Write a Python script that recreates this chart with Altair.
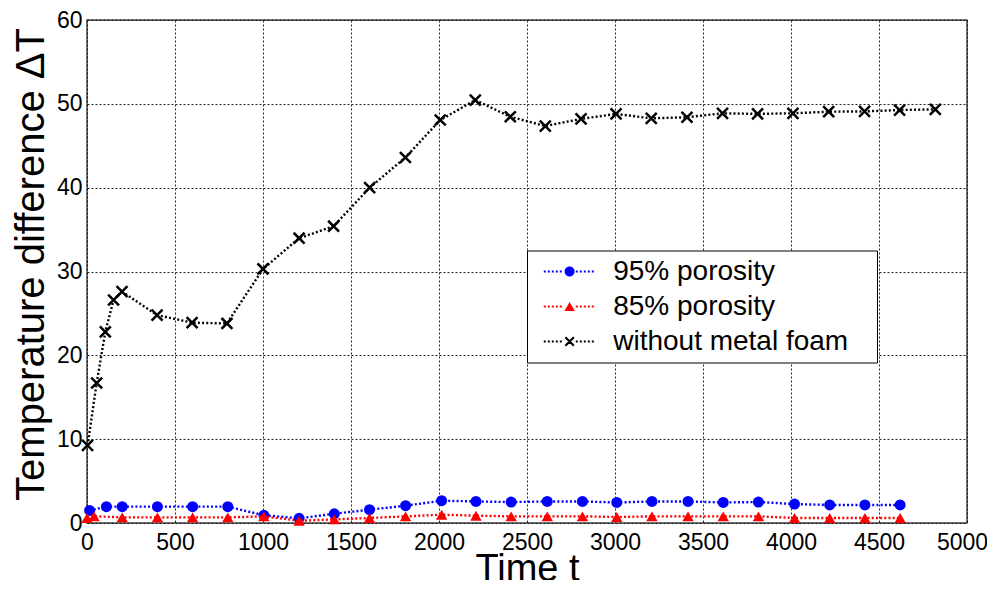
import altair as alt
import pandas as pd

# ---------------- data ----------------
series_names = ["95% porosity", "85% porosity", "without metal foam"]
series_colors = ["#0000ff", "#ff0000", "#000000"]

t_95 = [15, 110, 200, 400, 600, 800, 1005, 1205, 1405, 1605, 1810, 2015, 2210,
        2410, 2615, 2815, 3010, 3210, 3415, 3615, 3815, 4020, 4220, 4420, 4620]
dT_95 = [1.5, 1.95, 1.95, 1.95, 1.95, 1.95, 0.92, 0.56, 1.1, 1.59, 2.06, 2.66, 2.57,
         2.5, 2.57, 2.57, 2.45, 2.57, 2.57, 2.45, 2.5, 2.26, 2.15, 2.15, 2.15]

t_85 = [0, 40, 200, 400, 600, 800, 1005, 1205, 1405, 1605, 1810, 2015, 2210,
        2410, 2615, 2815, 3010, 3210, 3415, 3615, 3815, 4020, 4220, 4420, 4620]
dT_85 = [0.6, 0.8, 0.67, 0.67, 0.67, 0.67, 0.79, 0.27, 0.43, 0.6, 0.79, 0.99, 0.87,
         0.79, 0.79, 0.79, 0.72, 0.79, 0.79, 0.79, 0.79, 0.6, 0.6, 0.6, 0.6]

t_none = [3, 55, 104, 151, 199, 398, 597, 795, 1000, 1205, 1401, 1606, 1809, 2007,
          2206, 2405, 2604, 2807, 3006, 3206, 3409, 3611, 3810, 4011, 4214, 4418,
          4617, 4820]
dT_none = [9.25, 16.7, 22.8, 26.6, 27.6, 24.8, 23.9, 23.8, 30.3, 33.97, 35.4, 40.0,
           43.6, 48.07, 50.45, 48.46, 47.35, 48.2, 48.8, 48.27, 48.4, 48.87, 48.8,
           48.87, 49.06, 49.1, 49.26, 49.34]

x_ticks = [0, 500, 1000, 1500, 2000, 2500, 3000, 3500, 4000, 4500, 5000]
y_ticks = [0, 10, 20, 30, 40, 50, 60]

x_title = "Time t"
y_title = "Temperature difference \u0394T"

rows = []
for name, ts, vs in zip(series_names, [t_95, t_85, t_none], [dT_95, dT_85, dT_none]):
    for t, v in zip(ts, vs):
        rows.append({"series": name, "t": t, "dT": v})
df = pd.DataFrame(rows)

# ---------------- legend symbols: dotted line + marker as one path ----------------
def dotted(half=5.16, dot=0.4, period=0.8, th=0.2, skip=1.0):
    parts = []
    x = -half
    while x + dot <= half + 1e-9:
        if abs(x + dot / 2) > skip:
            parts.append(f"M{x:.2f},{-th}L{x + dot:.2f},{-th}L{x + dot:.2f},{th}L{x:.2f},{th}Z")
        x += period
    return "".join(parts)

circle_path = "M-1,0A1,1,0,1,0,1,0A1,1,0,1,0,-1,0Z"
tri_path = "M0,-0.9L-1.05,0.9L1.05,0.9Z"
a, k = 0.85, 0.156
x_path = (f"M{-a + k},{-a - k}L{a + k},{a - k}L{a - k},{a + k}L{-a - k},{-a + k}Z"
          f"M{-a - k},{a - k}L{a - k},{-a - k}L{a + k},{-a + k}L{-a + k},{a + k}Z")
legend_paths = [dotted() + circle_path, dotted() + tri_path, dotted() + x_path]

FONT = "Liberation Sans"
BLANK = "\u2800"

x_enc = alt.X("t:Q", scale=alt.Scale(domain=[0, 5000], nice=False, zero=False),
              axis=alt.Axis(values=x_ticks, format="d", title=x_title, titleFontSize=38,
                            titleFont=FONT, titleFontWeight="normal", titleColor="black",
                            titleBaseline="alphabetic", titleY=57,
                            labelFont=FONT, labelFontSize=23, labelColor="black",
                            labelPadding=8, labelFlush=False, ticks=False, domain=False,
                            labelOffset=alt.ExprRef("datum.value == 5000 ? -5 : 0"),
                            grid=True, gridColor="black", gridDash=[2, 2],
                            gridOpacity=0.85, gridWidth=1))
y_enc = alt.Y("dT:Q", scale=alt.Scale(domain=[0, 60], nice=False),
              axis=alt.Axis(values=y_ticks, title=y_title, titleFontSize=40,
                            titleFont=FONT, titleFontWeight="normal", titleColor="black",
                            titleBaseline="alphabetic", titleX=-44, titleY=244,
                            labelFont=FONT, labelFontSize=23, labelColor="black",
                            labelPadding=5, labelFlush=False, ticks=False, domain=False,
                            grid=True, gridColor="black", gridDash=[2, 2],
                            gridOpacity=0.85, gridWidth=1))

base = alt.Chart(df)

def series_layers(i, point_kwargs):
    sub = base.transform_filter(alt.datum.series == series_names[i])
    line = sub.mark_line(strokeDash=[2, 2.2], strokeWidth=2.4,
                         color=series_colors[i]).encode(x=x_enc, y=y_enc)
    pts = sub.mark_point(color=series_colors[i], opacity=1, **point_kwargs).encode(
        x=x_enc, y=y_enc)
    return [line, pts]

layers = []
layers += series_layers(2, dict(shape="M-1,-1L1,1M-1,1L1,-1", filled=False,
                                size=120, strokeWidth=2.5))
layers += series_layers(0, dict(shape="circle", filled=True, size=121))
layers += series_layers(1, dict(shape="triangle-up", filled=True, size=130))

legend_layer = base.transform_filter("false").mark_point(filled=True, opacity=1).encode(
    x=x_enc, y=y_enc,
    color=alt.Color("series:N", scale=alt.Scale(domain=series_names, range=series_colors),
                    legend=alt.Legend(
                        title=None, orient="none", legendX=440, legendY=230.5,
                        fillColor="white", strokeColor="black", padding=7,
                        labelFont=FONT, labelFontSize=28, labelColor="black",
                        symbolSize=100, symbolStrokeWidth=0, symbolOffset=21.6,
                        labelOffset=29.6, rowPadding=7, labelLimit=0,
                        labelExpr="datum.label + '" + BLANK + "'")),
    shape=alt.Shape("series:N", scale=alt.Scale(domain=series_names, range=legend_paths)),
)
layers.append(legend_layer)

chart = alt.layer(*layers).properties(
    width=880, height=503,
    autosize=alt.AutoSizeParams(type="none"),
    padding={"left": 79, "top": 12, "right": 20, "bottom": 57},
    background="white",
).configure_view(stroke="#444444", strokeWidth=1.5).configure_legend(strokeWidth=1)

chart.save("out.html", embed_options={"renderer": "svg", "actions": False})
